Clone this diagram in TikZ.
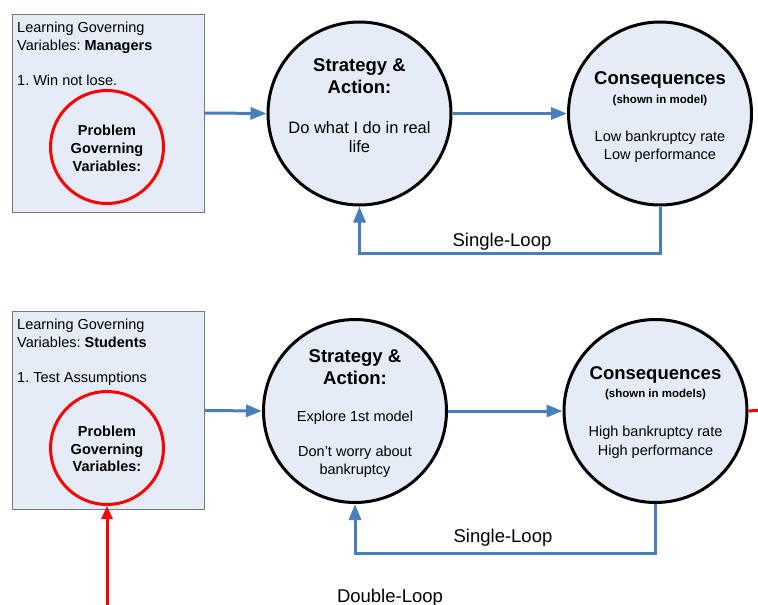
\documentclass[tikz,border=0pt]{standalone}
\usepackage{fontspec}
\setmainfont{Liberation Sans}
\frenchspacing
\usetikzlibrary{arrows.meta}
\definecolor{panel}{RGB}{230,236,247}
\definecolor{flow}{RGB}{74,126,187}
\definecolor{boxline}{RGB}{120,120,120}
\definecolor{alert}{RGB}{255,0,0}

\begin{document}
\begin{tikzpicture}[x=1pt,y=-1pt,
  govbox/.style={draw=boxline,line width=1pt,fill=panel,rectangle,minimum width=192pt,minimum height=198pt,inner sep=0},
  stage/.style={draw=black,line width=3pt,fill=panel,circle,minimum size=183pt,inner sep=0},
  problem/.style={draw=alert,line width=3pt,circle,minimum size=113pt,inner sep=0},
  flowarrow/.style={draw=flow,line width=3pt,-{Triangle[length=16pt,width=12pt]}},
  redarrow/.style={draw=alert,line width=3pt,-{Triangle[length=13pt,width=11pt]}},
  txt/.style={inner sep=0,text height=0.72em,text depth=0.21em,yshift=-4pt},
  body/.style={txt,font=\fontsize{14.5}{17}\selectfont},
  bigbody/.style={txt,font=\fontsize{16.5}{19}\selectfont},
  head/.style={txt,font=\fontsize{18.5}{22}\selectfont\bfseries},
  note/.style={txt,font=\fontsize{11.5}{14}\selectfont\bfseries},
  pgv/.style={txt,font=\fontsize{14.5}{17}\selectfont\bfseries},
  looplabel/.style={txt,font=\fontsize{18.5}{22}\selectfont},
]
\useasboundingbox (0,0) rectangle (758,605);

% ---------- upper row: managers ----------
\node[govbox] (box1) at (108.5,113) {};
\node[body,anchor=west] (b1l1) at (17,26) {Learning Governing};
\node[body,anchor=west] (b1l2) at (17,43.5) {Variables: \textbf{Managers}};
\node[body,anchor=west] (b1l3) at (17,79) {1. Win not lose.};
\node[problem] (pg1) at (107,147) {};
\node[pgv] (p1a) at (107,129) {Problem};
\node[pgv] (p1b) at (107,147) {Governing};
\node[pgv] (p1c) at (107,165) {Variables:};

\node[stage] (sa1) at (359.5,113.5) {};
\node[head] (s1a) at (359.5,65) {Strategy \&};
\node[head] (s1b) at (359.5,87) {Action:};
\node[bigbody] (s1c) at (359.5,126.5) {Do what I do in real};
\node[bigbody] (s1d) at (359.5,146) {life};

\node[stage] (cq1) at (660,113.5) {};
\node[head] (c1a) at (660,77.5) {Consequences};
\node[note] (c1b) at (660,97) {(shown in model)};
\node[body] (c1c) at (660,135) {Low bankruptcy rate};
\node[body] (c1d) at (660,152.5) {Low performance};

\draw[flowarrow] (box1.east) -- (sa1.west);
\draw[flowarrow] (sa1.east) -- (cq1.west);
\draw[flowarrow] (cq1.south) -- ++(0,47) coordinate (loop1) -| (sa1.south);
\node[looplabel] (sl1) at (502,240) {Single-Loop};

% ---------- lower row: students ----------
\node[govbox] (box2) at (108.5,410.5) {};
\node[body,anchor=west] (b2l1) at (17,323) {Learning Governing};
\node[body,anchor=west] (b2l2) at (17,340.5) {Variables: \textbf{Students}};
\node[body,anchor=west] (b2l3) at (17,375.5) {1. Test Assumptions};
\node[problem] (pg2) at (107,448) {};
\node[pgv] (p2a) at (107,430) {Problem};
\node[pgv] (p2b) at (107,447.5) {Governing};
\node[pgv] (p2c) at (107,465) {Variables:};

\node[stage] (sa2) at (355,411) {};
\node[head] (s2a) at (355,355.5) {Strategy \&};
\node[head] (s2b) at (355,377.5) {Action:};
\node[body] (s2c) at (355,415) {Explore 1st model};
\node[body] (s2d) at (355,450) {Don’t worry about};
\node[body] (s2e) at (355,468) {bankruptcy};

\node[stage] (cq2) at (655.5,411) {};
\node[head] (c2a) at (655.5,373) {Consequences};
\node[note] (c2b) at (655.5,391) {(shown in models)};
\node[body] (c2c) at (655.5,430) {High bankruptcy rate};
\node[body] (c2d) at (655.5,449) {High performance};

\draw[flowarrow] (box2.east) -- (sa2.west);
\draw[flowarrow] (sa2.east) -- (cq2.west);
\draw[flowarrow] (cq2.south) -- ++(0,49) coordinate (loop2) -| (sa2.south);
\node[looplabel] (sl2) at (503,536) {Single-Loop};

% ---------- double loop ----------
\coordinate (dlout) at (762,410);
\coordinate (dlin) at (107,608);
\draw[alert,line width=3pt] (cq2.east) -- (dlout);
\draw[redarrow] (dlin) -- (pg2.south);
\node[looplabel] (dl) at (390,596) {Double-Loop};
\end{tikzpicture}
\end{document}
